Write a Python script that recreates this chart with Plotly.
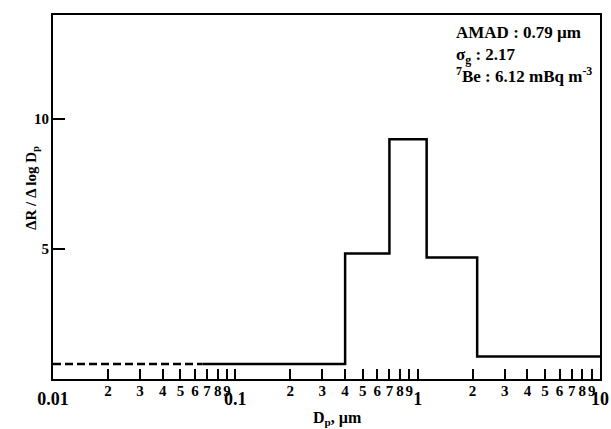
import plotly.graph_objects as go

# ---- data ----
bin_edges = [0.066, 0.40, 0.70, 1.12, 2.12, 10.0]     # µm
bin_values = [0.58, 4.83, 9.22, 4.67, 0.87]           # ΔR/ΔlogDp
dash_x = [0.01, 0.066]                                 # extrapolated part
dash_y = [0.58, 0.58]

minor_tickvals = [0.02, 0.03, 0.04, 0.05, 0.06, 0.07, 0.08, 0.09, 0.1,
                  0.2, 0.3, 0.4, 0.5, 0.6, 0.7, 0.8, 0.9, 1.0,
                  2, 3, 4, 5, 6, 7, 8, 9]
minor_ticktext = ["2", "3", "4", "5", "6", "7", "8", "9", "",
                  "2", "3", "4", "5", "6", "7", "8", "9", "",
                  "2", "3", "4", "5", "6", "7", "8", "9"]
major_tickvals = [0.01, 0.1, 1, 10]
major_ticktext = ["0.01", "0.1", "1", "10"]
y_tickvals = [5, 10]
y_ticktext = ["5", "10"]

info_lines = ["AMAD : 0.79 µm", "σ<sub>g</sub> : 2.17", "<sup>7</sup>Be : 6.12 mBq m<sup>-3</sup>"]

FONT = "Liberation Serif"

def bold(labels):
    return ["<b>%s</b>" % t if t else "" for t in labels]

step_x = list(bin_edges)
step_y = list(bin_values) + [bin_values[-1]]

fig = go.Figure()
fig.add_trace(go.Scatter(x=dash_x, y=dash_y, mode="lines", xaxis="x2",
                         line=dict(color="black", width=2.5, dash="8px,4px"),
                         showlegend=False, hoverinfo="skip"))
fig.add_trace(go.Scatter(x=step_x, y=step_y, mode="lines", line_shape="hv",
                         line=dict(color="black", width=2.5),
                         showlegend=False))

fig.update_layout(
    width=611, height=429,
    margin=dict(l=53, r=11, t=15, b=50),
    paper_bgcolor="white", plot_bgcolor="white",
    font=dict(family=FONT, color="black"),
    xaxis=dict(type="log", range=[-2, 1], showgrid=False, zeroline=False, automargin=False,
               showline=True, mirror=True, linecolor="black", linewidth=2,
               tickmode="array", tickvals=minor_tickvals, ticktext=bold(minor_ticktext),
               ticks="inside", ticklen=10, tickwidth=1.5, tickcolor="black",
               ticklabelstandoff=-3, tickangle=0,
               tickfont=dict(family=FONT, size=15, color="black")),
    xaxis2=dict(type="log", range=[-2, 1], overlaying="x", anchor="y", side="bottom",
                showgrid=False, zeroline=False, showline=False, automargin=False,
                tickmode="array", tickvals=major_tickvals, ticktext=bold(major_ticktext),
                ticks="", ticklabelstandoff=7, tickangle=0,
                tickfont=dict(family=FONT, size=18, color="black")),
    yaxis=dict(range=[0, 14], showgrid=False, zeroline=False, automargin=False,
               showline=True, mirror=True, linecolor="black", linewidth=2,
               tickmode="array", tickvals=y_tickvals, ticktext=bold(y_ticktext),
               ticks="inside", ticklen=12, tickwidth=1.5, tickcolor="black",
               ticklabelstandoff=-1,
               tickfont=dict(family=FONT, size=15, color="black")),
)

fig.add_annotation(text="<b>D<sub>p</sub>, µm</b>", xref="paper", yref="paper",
                   x=0.52, y=0, yanchor="middle", yshift=-39, showarrow=False,
                   font=dict(family=FONT, size=16, color="black"))
fig.add_annotation(text="<b>ΔR / Δ log D<sub>p</sub></b>", xref="paper", yref="paper",
                   x=0, y=0.525, xshift=-32, textangle=-90, showarrow=False,
                   font=dict(family=FONT, size=15, color="black"))
fig.add_annotation(text="<b>" + "<br>".join(info_lines) + "</b>", xref="paper", yref="paper",
                   x=0.733, y=1, xanchor="left", yanchor="top", yshift=-6,
                   align="left", showarrow=False,
                   font=dict(family=FONT, size=17, color="black"))

fig.write_html("out.html", config={"displayModeBar": False},
               post_script="document.body.style.margin='0';document.body.style.overflow='hidden';")
